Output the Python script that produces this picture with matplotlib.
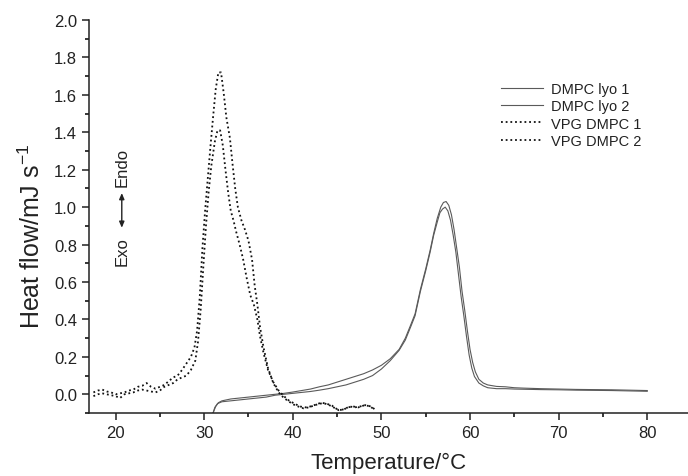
import matplotlib
matplotlib.use("Agg")
import matplotlib.pyplot as plt
from matplotlib.ticker import MultipleLocator

plt.rcParams['font.family'] = ['Liberation Sans', 'DejaVu Sans']
plt.rcParams['mathtext.fontset'] = 'custom'
plt.rcParams['mathtext.rm'] = 'Liberation Sans'

# ---- data ----
vpg1_x = [17.5, 18.0, 18.5, 19.0, 19.5, 20.0, 20.5, 21.0, 21.5, 22.0, 22.5, 23.0, 23.5, 24.0,
          24.5, 25.0, 25.5, 26.0, 26.5, 27.0, 27.5, 28.0, 28.5, 28.9, 29.2, 29.5, 29.8, 30.1,
          30.4, 30.7, 31.0, 31.3, 31.6, 31.9, 32.2, 32.5, 32.9, 33.2, 33.5, 33.8, 34.2, 34.6,
          35.0, 35.4, 35.7, 36.0, 36.3, 36.7, 37.2, 37.8, 38.4, 39.0, 39.6, 40.1, 40.6, 41.2,
          41.8, 42.4, 43.0, 43.5, 44.0, 44.6, 45.2, 45.8, 46.4, 47.0, 47.6, 48.2, 48.8, 49.4]
vpg1_y = [0.01, 0.02, 0.025, 0.015, 0.01, 0.0, 0.005, 0.01, 0.02, 0.025, 0.04, 0.045, 0.06, 0.04,
          0.03, 0.04, 0.05, 0.07, 0.09, 0.10, 0.13, 0.165, 0.20, 0.25, 0.34, 0.52, 0.78, 0.98,
          1.15, 1.32, 1.48, 1.63, 1.72, 1.72, 1.61, 1.48, 1.37, 1.23, 1.10, 1.00, 0.93, 0.88,
          0.82, 0.72, 0.58, 0.48, 0.36, 0.25, 0.14, 0.06, 0.01, -0.02, -0.04, -0.055, -0.065, -0.075,
          -0.07, -0.06, -0.05, -0.048, -0.055, -0.07, -0.085, -0.08, -0.065, -0.07, -0.065, -0.058, -0.065, -0.085]

vpg2_x = [17.5, 18.0, 18.5, 19.0, 19.5, 20.0, 20.5, 21.0, 21.5, 22.0, 22.5, 23.0, 23.5, 24.0,
          24.5, 25.0, 25.5, 26.0, 26.5, 27.0, 27.5, 28.0, 28.5, 29.0, 29.3, 29.6, 29.9, 30.2,
          30.5, 30.8, 31.2, 31.5, 31.8, 32.1, 32.4, 32.7, 33.0, 33.3, 33.6, 34.0, 34.4, 34.8,
          35.2, 35.6, 36.0, 36.3, 36.7, 37.2, 37.8, 38.4, 39.0, 39.6, 40.2, 40.8, 41.4, 42.0,
          42.6, 43.2, 43.8, 44.4, 45.0, 45.6, 46.2, 46.8, 47.4, 48.0, 48.6, 49.2]
vpg2_y = [-0.01, 0.0, 0.005, 0.0, -0.005, -0.01, -0.02, 0.0, 0.005, 0.01, 0.02, 0.025, 0.02, 0.015,
          0.01, 0.02, 0.04, 0.05, 0.06, 0.08, 0.09, 0.10, 0.13, 0.18, 0.28, 0.45, 0.68, 0.90,
          1.08, 1.22, 1.35, 1.41, 1.41, 1.33, 1.20, 1.08, 0.98, 0.93, 0.87, 0.80, 0.72, 0.62,
          0.53, 0.48, 0.40, 0.31, 0.22, 0.13, 0.065, 0.02, -0.01, -0.035, -0.05, -0.065, -0.07, -0.065,
          -0.055, -0.045, -0.05, -0.06, -0.08, -0.085, -0.07, -0.065, -0.07, -0.06, -0.062, -0.08]

lyo1_x = [31.0, 31.3, 31.6, 32.0, 33.0, 34.0, 35.0, 36.0, 37.0, 38.0, 39.0, 40.0, 41.0, 42.0,
          43.0, 44.0, 45.0, 46.0, 47.0, 48.0, 49.0, 50.0, 51.0, 52.0, 52.7, 53.3, 53.8, 54.4,
          55.0, 55.5, 55.9, 56.3, 56.7, 57.0, 57.3, 57.6, 57.9, 58.2, 58.5, 58.8, 59.1, 59.4,
          59.7, 60.0, 60.3, 60.6, 61.0, 61.5, 62.0, 63.0, 64.0, 65.0, 66.0, 68.0, 70.0, 72.0,
          74.0, 76.0, 78.0, 80.0]
lyo1_y = [-0.10, -0.065, -0.045, -0.035, -0.025, -0.02, -0.015, -0.01, -0.005, 0.0, 0.005, 0.012, 0.02, 0.028,
          0.04, 0.05, 0.065, 0.08, 0.095, 0.11, 0.13, 0.155, 0.19, 0.24, 0.30, 0.37, 0.43, 0.56,
          0.67, 0.77, 0.86, 0.94, 1.00, 1.025, 1.03, 1.01, 0.96, 0.88, 0.78, 0.68, 0.55, 0.45,
          0.34, 0.24, 0.17, 0.12, 0.08, 0.06, 0.05, 0.042, 0.04, 0.035, 0.033, 0.03, 0.028, 0.026,
          0.025, 0.024, 0.022, 0.02]

lyo2_x = [31.0, 31.2, 31.5, 32.0, 33.0, 34.0, 35.0, 36.0, 37.0, 38.0, 39.0, 40.0, 41.0, 42.0,
          43.0, 44.0, 45.0, 46.0, 47.0, 48.0, 49.0, 50.0, 51.0, 52.0, 52.7, 53.3, 53.8, 54.4,
          55.0, 55.5, 55.9, 56.3, 56.6, 56.9, 57.2, 57.5, 57.8, 58.1, 58.4, 58.7, 59.0, 59.3,
          59.6, 59.9, 60.2, 60.5, 61.0, 61.5, 62.0, 63.0, 64.0, 65.0, 66.0, 68.0, 70.0, 72.0,
          74.0, 76.0, 78.0, 80.0]
lyo2_y = [-0.10, -0.07, -0.05, -0.04, -0.035, -0.03, -0.025, -0.02, -0.015, -0.005, 0.0, 0.005, 0.01, 0.015,
          0.022, 0.03, 0.04, 0.05, 0.065, 0.08, 0.10, 0.135, 0.18, 0.235, 0.29, 0.36, 0.42, 0.55,
          0.66, 0.76, 0.85, 0.92, 0.97, 0.99, 1.00, 0.98, 0.93, 0.85, 0.76, 0.64, 0.52, 0.42,
          0.31, 0.21, 0.14, 0.095, 0.06, 0.045, 0.035, 0.03, 0.03, 0.028, 0.027, 0.025, 0.024, 0.022,
          0.021, 0.02, 0.018, 0.016]

xticks = [20, 30, 40, 50, 60, 70, 80]
yticks = [0.0, 0.2, 0.4, 0.6, 0.8, 1.0, 1.2, 1.4, 1.6, 1.8, 2.0]

# ---- figure ----
fig = plt.figure(figsize=(6.88, 4.77), dpi=100)
ax = fig.add_axes([89/688, 1-414/477, 1-89/688, (414-21)/477])

ax.plot(lyo1_x, lyo1_y, color='#5a5a5a', lw=0.8, label='DMPC lyo 1')
ax.plot(lyo2_x, lyo2_y, color='#5a5a5a', lw=0.8, label='DMPC lyo 2')
ax.plot(vpg1_x, vpg1_y, color='#111111', lw=1.3, linestyle=(0, (1, 1.6)), label='VPG DMPC 1')
ax.plot(vpg2_x, vpg2_y, color='#111111', lw=1.3, linestyle=(0, (1, 1.6)), label='VPG DMPC 2')

ax.set_xlim(17, 84.6)
ax.set_ylim(-0.1, 2.0)
ax.set_xticks(xticks)
ax.set_yticks(yticks)
ax.set_yticklabels([f"{v:.1f}" for v in yticks])
ax.xaxis.set_minor_locator(MultipleLocator(5))
ax.yaxis.set_minor_locator(MultipleLocator(0.1))
ax.tick_params(which='major', direction='out', length=5, width=1.1, labelsize=12, colors='#222222')
ax.tick_params(which='minor', direction='out', length=3, width=1.1)
ax.tick_params(axis='x', pad=4)
for s in ['top', 'right']:
    ax.spines[s].set_visible(False)
for s in ['left', 'bottom']:
    ax.spines[s].set_linewidth(1.1)
    ax.spines[s].set_color('#222222')

ax.set_xlabel('Temperature/°C', fontsize=16, labelpad=8, color='#222222')
ax.set_ylabel('Heat flow/mJ s$^{\\mathregular{-1}}$', fontsize=18, color='#222222')
ax.yaxis.set_label_coords(-0.073, 0.452)

leg = ax.legend(loc='upper left', bbox_to_anchor=(0.688, 0.842), frameon=False, fontsize=10.5,
                handlelength=2.9, handletextpad=0.55, labelspacing=0.22, borderaxespad=0,
                borderpad=0)
for t in leg.get_texts():
    t.set_color('#222222')

# Exo / Endo annotation
ax.text(20.7, 1.22, 'Endo', rotation=90, ha='center', va='center', fontsize=12, color='#222222')
ax.text(20.7, 0.77, 'Exo', rotation=90, ha='center', va='center', fontsize=12, color='#222222')
ax.annotate('', xy=(20.7, 1.09), xytext=(20.7, 0.875),
            arrowprops=dict(arrowstyle='<|-|>,head_length=0.35,head_width=0.15', color='#222222', lw=1.0))

fig.savefig('out.png', dpi=100)
